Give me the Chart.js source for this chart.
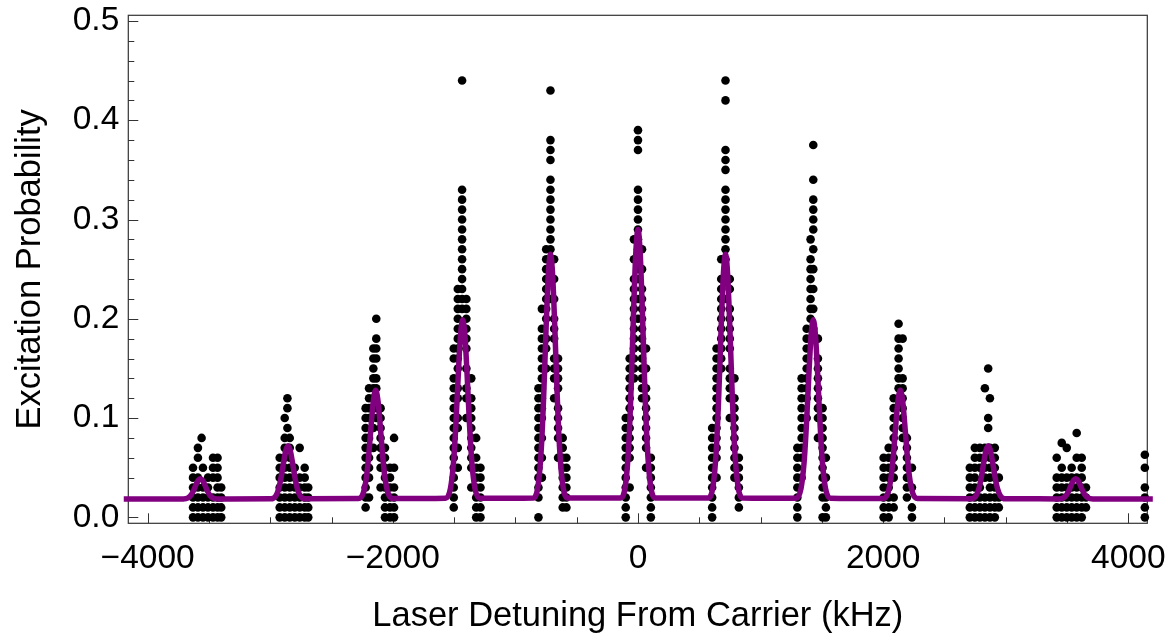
<!DOCTYPE html>
<html>
<head>
<meta charset="utf-8">
<script src="https://cdn.jsdelivr.net/npm/chart.js@4.4.1/dist/chart.umd.min.js"></script>
<style>
  body { margin: 0; background: #fff; }
  #wrap { width: 1169px; height: 634px; }
</style>
</head>
<body>
<div id="wrap"><canvas id="myChart" width="1169" height="634"></canvas></div>
<script>
// sideband positions (kHz)
const peakCenters = [-3570, -2855, -2140, -1430, -714, 0, 714, 1430, 2140, 2857, 3571]

// measured points per sideband: [offset from peak (kHz), [excitation probabilities]]
const sbM5 = [
  [-60, [0, 0.01, 0.02, 0.03, 0.04, 0.05]],
  [-20, [0, 0.01, 0.02, 0.03, 0.04, 0.06, 0.07]],
  [10, [0.08]],
  [21, [0, 0.01, 0.02, 0.03, 0.05]],
  [62, [0, 0.01, 0.02, 0.03, 0.04]],
  [103, [0, 0.01, 0.02, 0.04, 0.05, 0.06]],
  [140, [0, 0.01, 0.02, 0.03, 0.04, 0.05, 0.06]],
  [170, [0, 0.01, 0.02, 0.03]]
]
const sbM4 = [
  [-68, [0, 0.01, 0.02, 0.03, 0.04, 0.05, 0.06]],
  [-27, [0, 0.01, 0.02, 0.03, 0.04, 0.05, 0.06, 0.07, 0.08, 0.10]],
  [-5, [0.09, 0.11, 0.12]],
  [14, [0, 0.01, 0.02, 0.03, 0.04, 0.05, 0.06, 0.07, 0.08]],
  [55, [0, 0.01, 0.02, 0.03, 0.04, 0.05]],
  [95, [0, 0.01, 0.02, 0.03, 0.04, 0.07]],
  [136, [0, 0.01, 0.02, 0.03, 0.04, 0.05]],
  [165, [0, 0.01, 0.02, 0.03]]
]
const sbM3 = [
  [-82, [0.01, 0.02, 0.03, 0.04, 0.05, 0.06, 0.07, 0.08, 0.09, 0.10, 0.11]],
  [-54, [0.02, 0.04, 0.05, 0.06, 0.07, 0.08, 0.10, 0.11, 0.12, 0.13]],
  [-19, [0.07, 0.09, 0.11, 0.12, 0.13, 0.14, 0.15, 0.16, 0.17]],
  [5, [0.10, 0.11, 0.13, 0.14, 0.16, 0.17, 0.18, 0.20]],
  [40, [0.03, 0.05, 0.06, 0.07, 0.08, 0.09, 0.10, 0.11]],
  [76, [0, 0.01, 0.02, 0.03, 0.04, 0.05, 0.06, 0.07]],
  [117, [0, 0.01, 0.02, 0.03, 0.04, 0.05]],
  [150, [0, 0.01, 0.02, 0.03, 0.05, 0.08]]
]
const sbM2 = [
  [-73, [0.01, 0.02, 0.03, 0.04, 0.05, 0.06, 0.07, 0.08, 0.09, 0.10, 0.11, 0.12, 0.13, 0.14, 0.16, 0.17]],
  [-40, [0.05, 0.07, 0.09, 0.10, 0.12, 0.13, 0.15, 0.16, 0.17, 0.18, 0.19, 0.20, 0.21, 0.22, 0.23]],
  [-5, [0.21, 0.22, 0.23, 0.24, 0.25, 0.26, 0.27, 0.28, 0.29, 0.30, 0.31, 0.32, 0.33, 0.44]],
  [30, [0.10, 0.12, 0.13, 0.15, 0.17, 0.18, 0.19, 0.20, 0.21, 0.22]],
  [70, [0.03, 0.05, 0.06, 0.07, 0.08, 0.09, 0.10, 0.11, 0.12, 0.14]],
  [110, [0, 0.01, 0.02, 0.03, 0.04, 0.05, 0.06, 0.08]],
  [145, [0, 0.01, 0.02, 0.03, 0.04, 0.05]]
]
const sbM1 = [
  [-98, [0, 0.02, 0.03, 0.04, 0.05, 0.06, 0.07, 0.08, 0.09, 0.10, 0.11, 0.12, 0.13]],
  [-70, [0.04, 0.06, 0.08, 0.10, 0.11, 0.12, 0.13, 0.14, 0.15, 0.16, 0.17, 0.18, 0.19, 0.21]],
  [-35, [0.15, 0.17, 0.18, 0.20, 0.21, 0.22, 0.23, 0.24, 0.25, 0.26, 0.27]],
  [0, [0.22, 0.24, 0.25, 0.26, 0.27, 0.28, 0.29, 0.30, 0.31, 0.32, 0.33, 0.34, 0.36, 0.37, 0.38, 0.43]],
  [30, [0.12, 0.14, 0.15, 0.16, 0.18, 0.19, 0.20, 0.22, 0.24, 0.26]],
  [62, [0.06, 0.08, 0.09, 0.10, 0.11, 0.13, 0.14, 0.15, 0.16]],
  [100, [0.01, 0.02, 0.03, 0.04, 0.05, 0.06, 0.07, 0.08]],
  [130, [0.01, 0.02, 0.03, 0.04, 0.05, 0.06]]
]
const carrier = [
  [-100, [0, 0.01, 0.02, 0.03, 0.04, 0.05, 0.06, 0.07, 0.08, 0.09, 0.10]],
  [-68, [0.03, 0.06, 0.07, 0.08, 0.09, 0.10, 0.11, 0.12, 0.13, 0.14, 0.15, 0.16]],
  [-33, [0.14, 0.15, 0.16, 0.17, 0.18, 0.19, 0.20, 0.21, 0.22, 0.23, 0.24, 0.26, 0.28]],
  [0, [0.20, 0.22, 0.24, 0.25, 0.26, 0.27, 0.28, 0.29, 0.30, 0.31, 0.32, 0.33, 0.37, 0.38, 0.39]],
  [33, [0.12, 0.13, 0.14, 0.15, 0.16, 0.17, 0.18, 0.19, 0.20, 0.21, 0.22, 0.23, 0.25, 0.27]],
  [66, [0.05, 0.07, 0.08, 0.09, 0.10, 0.11, 0.12, 0.13, 0.15, 0.17]],
  [105, [0, 0.01, 0.02, 0.03, 0.04, 0.05, 0.06]]
]
const sbP1 = [
  [-109, [0, 0.01, 0.02, 0.03, 0.04, 0.05, 0.06, 0.07, 0.08, 0.09]],
  [-73, [0.04, 0.06, 0.07, 0.08, 0.09, 0.10, 0.11, 0.12, 0.13, 0.14, 0.15, 0.16, 0.17]],
  [-35, [0.15, 0.16, 0.17, 0.18, 0.19, 0.20, 0.21, 0.22, 0.23, 0.24, 0.26]],
  [0, [0.22, 0.24, 0.25, 0.26, 0.27, 0.28, 0.29, 0.30, 0.31, 0.32, 0.33, 0.35, 0.36, 0.37, 0.42, 0.44]],
  [35, [0.10, 0.12, 0.13, 0.14, 0.15, 0.17, 0.18, 0.19, 0.20, 0.21, 0.23, 0.24]],
  [73, [0.04, 0.05, 0.06, 0.07, 0.08, 0.09, 0.10, 0.11, 0.12, 0.14]],
  [109, [0.01, 0.02, 0.03, 0.04, 0.05, 0.06]]
]
const sbP2 = [
  [-130, [0, 0.01, 0.02, 0.03, 0.04, 0.05, 0.06, 0.07]],
  [-95, [0.04, 0.06, 0.07, 0.08, 0.09, 0.10, 0.11, 0.12, 0.13, 0.14]],
  [-54, [0.10, 0.12, 0.13, 0.14, 0.15, 0.16, 0.17, 0.18, 0.19]],
  [-22, [0.20, 0.21, 0.22, 0.23, 0.24, 0.25, 0.26, 0.28]],
  [0, [0.19, 0.21, 0.23, 0.25, 0.27, 0.29, 0.30, 0.31, 0.32, 0.34, 0.375]],
  [38, [0.08, 0.10, 0.11, 0.12, 0.13, 0.14, 0.15, 0.16, 0.18]],
  [76, [0, 0.02, 0.03, 0.04, 0.05, 0.06, 0.07, 0.08, 0.09, 0.10, 0.11]],
  [103, [0, 0.01, 0.02, 0.04, 0.06]]
]
const sbP3 = [
  [-136, [0, 0.01, 0.02, 0.03, 0.04, 0.05, 0.06]],
  [-95, [0, 0.01, 0.02, 0.03, 0.04, 0.05, 0.06, 0.07]],
  [-54, [0.01, 0.02, 0.04, 0.05, 0.06, 0.07, 0.08, 0.09, 0.10, 0.11, 0.12]],
  [-14, [0.12, 0.13, 0.14, 0.15, 0.16, 0.17, 0.18, 0.195]],
  [19, [0.08, 0.09, 0.10, 0.11, 0.12, 0.13, 0.14, 0.18]],
  [54, [0.02, 0.03, 0.04, 0.05, 0.06, 0.07, 0.08]],
  [95, [0, 0.01, 0.03, 0.05]]
]
const sbP4 = [
  [-150, [0, 0.01, 0.02, 0.03, 0.04, 0.05]],
  [-109, [0, 0.01, 0.02, 0.03, 0.04, 0.05, 0.06, 0.07]],
  [-68, [0, 0.01, 0.02, 0.03, 0.05, 0.06, 0.07]],
  [-27, [0, 0.01, 0.02, 0.04, 0.05, 0.06, 0.07, 0.13]],
  [0, [0.09, 0.10, 0.15]],
  [14, [0, 0.01, 0.02, 0.03, 0.04, 0.05, 0.06, 0.07, 0.12]],
  [54, [0, 0.01, 0.02, 0.03, 0.04, 0.05, 0.06, 0.07]],
  [87, [0.01, 0.02, 0.04]]
]
const sbP5 = [
  [-155, [0, 0.01, 0.02, 0.03, 0.04, 0.06]],
  [-114, [0, 0.01, 0.02, 0.03, 0.04, 0.05, 0.075]],
  [-73, [0, 0.01, 0.02, 0.03, 0.04, 0.07]],
  [-33, [0, 0.01, 0.02, 0.03, 0.04, 0.05]],
  [8, [0, 0.01, 0.02, 0.03, 0.04, 0.06, 0.085]],
  [49, [0, 0.01, 0.02, 0.03, 0.04, 0.05, 0.06]],
  [84, [0.01, 0.02, 0.03]]
]
// last scan column at the right edge
const edgeX = 4135
const edgeY = [0, 0.01, 0.02, 0.03, 0.05, 0.063]

// fitted curve: baseline + half profile of each peak (offsets 0..140 kHz)
const fitBaseline = 0.0185
const fitStart = -4195
const fitEnd = 4200
const fitOffsets = [0, 18, 35, 55, 75, 100, 140]
const fitProfiles = [
  [0.039, 0.0372, 0.0330, 0.0272, 0.0227, 0.0197, 0.0186],
  [0.072, 0.0673, 0.0563, 0.0412, 0.0294, 0.0216, 0.0187],
  [0.128, 0.1184, 0.0959, 0.0649, 0.0407, 0.0249, 0.0189],
  [0.199, 0.1831, 0.1461, 0.0950, 0.0551, 0.0291, 0.0192],
  [0.265, 0.2433, 0.1928, 0.1230, 0.0685, 0.0330, 0.0195],
  [0.290, 0.2661, 0.2105, 0.1336, 0.0736, 0.0345, 0.0196],
  [0.265, 0.2433, 0.1928, 0.1230, 0.0685, 0.0330, 0.0195],
  [0.199, 0.1831, 0.1461, 0.0950, 0.0551, 0.0291, 0.0192],
  [0.128, 0.1184, 0.0959, 0.0649, 0.0407, 0.0249, 0.0189],
  [0.072, 0.0673, 0.0563, 0.0412, 0.0294, 0.0216, 0.0187],
  [0.039, 0.0372, 0.0330, 0.0272, 0.0227, 0.0197, 0.0186]
]

// axes
const xMin = -4158
const xMax = 4155
const yMin = -0.006
const yMax = 0.5057
const xTickLabels = [-4000, -2000, 0, 2000, 4000]
const yTickLabels = [0, 0.1, 0.2, 0.3, 0.4, 0.5]
const xMinorStep = 500
const yMinorStep = 0.02

const scanSets = [sbM5, sbM4, sbM3, sbM2, sbM1, carrier, sbP1, sbP2, sbP3, sbP4, sbP5]

var points = []
scanSets.forEach(function(set, i) {
  for (var col of set) {
    for (var p of col[1]) {
      points.push({x: peakCenters[i] + col[0], y: p})
    }
  }
})
for (var e of edgeY) points.push({x: edgeX, y: e})

var fit = [{x: fitStart, y: fitBaseline}]
peakCenters.forEach(function(c, i) {
  var prof = fitProfiles[i]
  for (var k = fitOffsets.length - 1; k > 0; k--) fit.push({x: c - fitOffsets[k], y: prof[k]})
  for (var k = 0; k < fitOffsets.length; k++) fit.push({x: c + fitOffsets[k], y: prof[k]})
})
fit.push({x: fitEnd, y: fitBaseline})

const fontFam = "'Liberation Sans', Arial, Helvetica, sans-serif"
const frameColor = '#333'

// Mathematica style frame with inward ticks on left and bottom
const frameTicks = {
  id: 'frameTicks',
  beforeDatasetsDraw(chart) {
    const {ctx, chartArea: a, scales: {x, y}} = chart
    ctx.save()
    ctx.strokeStyle = frameColor
    ctx.lineWidth = 1.2
    ctx.strokeRect(a.left, a.top, a.right - a.left, a.bottom - a.top)
    ctx.lineWidth = 1
    ctx.beginPath()
    var xFrom = xTickLabels[0], xTo = xTickLabels[xTickLabels.length - 1]
    for (var v = xFrom; v <= xTo; v += xMinorStep) {
      var px = Math.round(x.getPixelForValue(v)) + 0.5
      var len = xTickLabels.includes(v) ? 10 : 6
      ctx.moveTo(px, a.bottom)
      ctx.lineTo(px, a.bottom - len)
    }
    var n = Math.round((yTickLabels[yTickLabels.length - 1] - yTickLabels[0]) / yMinorStep)
    for (var i = 0; i <= n; i++) {
      var val = yTickLabels[0] + i * yMinorStep
      var py = Math.round(y.getPixelForValue(val)) + 0.5
      var major = yTickLabels.some(t => Math.abs(t - val) < 1e-9)
      ctx.moveTo(a.left, py)
      ctx.lineTo(a.left + (major ? 10 : 6), py)
    }
    ctx.stroke()
    ctx.restore()
  }
}

const ctx = document.getElementById('myChart')

new Chart(ctx, {
  type: 'scatter',
  data: {
    datasets: [{
      label: 'fit',
      data: fit,
      showLine: true,
      borderColor: '#800080',
      borderWidth: 5.5,
      pointRadius: 0,
      cubicInterpolationMode: 'monotone',
      clip: false
    }, {
      label: 'data',
      data: points,
      backgroundColor: '#000',
      pointRadius: 4.3,
      pointBorderWidth: 0,
      clip: false
    }]
  },
  options: {
    responsive: false,
    animation: false,
    devicePixelRatio: 1,
    layout: {padding: {left: 0, right: 21.7, top: 15.3, bottom: 0}},
    plugins: {legend: {display: false}, tooltip: {enabled: false}},
    scales: {
      x: {
        type: 'linear',
        min: xMin,
        max: xMax,
        afterBuildTicks: s => { s.ticks = xTickLabels.map(v => ({value: v})) },
        afterFit: s => { s.height = 110.7; s.paddingLeft = 0; s.paddingRight = 0 },
        grid: {display: false, drawTicks: false},
        border: {display: false},
        ticks: {
          autoSkip: false,
          maxRotation: 0,
          padding: 15,
          color: '#000',
          font: {family: fontFam, size: 33.5},
          callback: v => v < 0 ? '\u2212' + Math.abs(v) : String(v)
        },
        title: {
          display: true,
          text: 'Laser Detuning From Carrier (kHz)',
          color: '#000',
          font: {family: fontFam, size: 34.5, lineHeight: 1},
          padding: {top: 0, bottom: 0}
        }
      },
      y: {
        min: yMin,
        max: yMax,
        afterBuildTicks: s => { s.ticks = yTickLabels.map(v => ({value: v})) },
        afterFit: s => { s.width = 128.3; s.paddingTop = 0; s.paddingBottom = 0 },
        grid: {display: false, drawTicks: false},
        border: {display: false},
        ticks: {
          autoSkip: false,
          padding: 9,
          color: '#000',
          font: {family: fontFam, size: 33.5},
          callback: v => v.toFixed(1)
        },
        title: {
          display: true,
          text: 'Excitation Probability',
          color: '#000',
          font: {family: fontFam, size: 34.5, lineHeight: 1},
          padding: {top: 13, bottom: 0}
        }
      }
    }
  },
  plugins: [frameTicks]
})
</script>
</body>
</html>
